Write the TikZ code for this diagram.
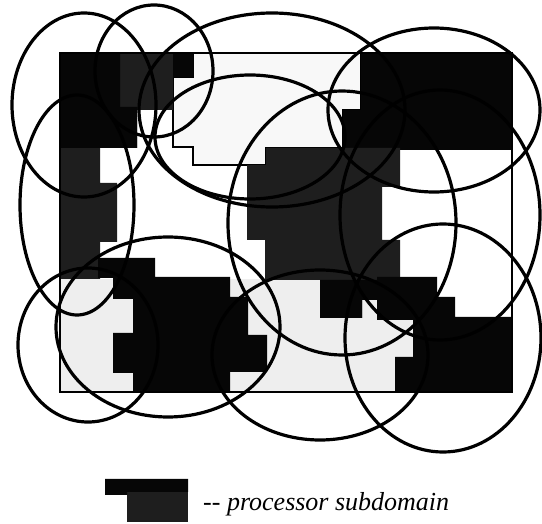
\documentclass[tikz,border=0pt]{standalone}
\usepackage{fontspec}
\setmainfont{Liberation Serif}
\usepackage{tikz}
\definecolor{procblack}{HTML}{060606}
\definecolor{procdark}{HTML}{1E1E1E}
\definecolor{proclight}{HTML}{EEEEEE}
\definecolor{procpale}{HTML}{F8F8F8}
\tikzset{
  blackpart/.style={fill=procblack, draw=none},
  darkpart/.style={fill=procdark, draw=none},
  lightpart/.style={fill=proclight, draw=none},
  palepart/.style={fill=procpale, draw=black, line width=1.2pt},
  frame/.style={draw=black, line width=1.4pt},
  hull/.style={draw=black, line width=3.2pt},
  lbl/.style={font=\fontsize{26}{30}\selectfont\itshape, anchor=base west,
              inner sep=0pt},
}

\begin{document}
\begin{tikzpicture}[x=1pt, y=-1pt]
  \useasboundingbox (0,0) rectangle (542,524);

  % subdomains
  \fill[lightpart] (60,279) rectangle (413,392);
  \filldraw[palepart] (193,53) -- (361,53) -- (361,110) -- (343,110) -- (343,148)
    -- (266,148) -- (266,165) -- (193,165) -- (193,147) -- (173,147)
    -- (173,77) -- (193,77) -- cycle;
  \fill[darkpart] (60,53) -- (193,53) -- (193,77) -- (173,77) -- (173,110)
    -- (137,110) -- (137,148) -- (100,148) -- (100,183) -- (117,183)
    -- (117,242) -- (100,242) -- (100,279) -- (60,279) -- cycle;
  \fill[blackpart] (60,53) -- (120,53) -- (120,107) -- (137,107) -- (137,148)
    -- (60,148) -- cycle;
  \fill[blackpart] (173,53) rectangle (193,77);
  \fill[blackpart] (361,53) -- (512,53) -- (512,150) -- (343,150) -- (343,110)
    -- (361,110) -- cycle;
  \fill[darkpart] (247,165) -- (266,165) -- (266,148) -- (400,148) -- (400,187)
    -- (382,187) -- (382,240) -- (400,240) -- (400,280) -- (377,280)
    -- (377,300) -- (362,300) -- (362,318) -- (320,318) -- (320,280)
    -- (265,280) -- (265,240) -- (247,240) -- cycle;
  \fill[blackpart] (320,280) -- (377,280) -- (377,300) -- (362,300)
    -- (362,318) -- (320,318) -- cycle;
  \fill[blackpart] (377,277) -- (437,277) -- (437,297) -- (455,297) -- (455,317)
    -- (512,317) -- (512,392) -- (395,392) -- (395,357) -- (413,357)
    -- (413,320) -- (377,320) -- cycle;
  \fill[blackpart] (98,258) -- (155,258) -- (155,277) -- (230,277) -- (230,297)
    -- (248,297) -- (248,335) -- (267,335) -- (267,372) -- (230,372)
    -- (230,392) -- (133,392) -- (133,373) -- (113,373) -- (113,333)
    -- (133,333) -- (133,299) -- (113,299) -- (113,278) -- (98,278) -- cycle;
  \draw[frame] (60,53) rectangle (512,392);

  % covering ellipses
  \draw[hull] (84,105) ellipse [x radius=72, y radius=92];
  \draw[hull] (154,71) ellipse [x radius=59, y radius=66];
  \draw[hull] (272,110) ellipse [x radius=133, y radius=97];
  \draw[hull] (250,137) ellipse [x radius=95, y radius=62];
  \draw[hull] (77,205) ellipse [x radius=57, y radius=110];
  \draw[hull] (434,110) ellipse [x radius=106, y radius=82];
  \draw[hull] (342,223) ellipse [x radius=114, y radius=132];
  \draw[hull] (168,327) ellipse [x radius=112, y radius=90];
  \draw[hull] (88,345) ellipse [x radius=70, y radius=77];
  \draw[hull] (320,355) ellipse [x radius=108, y radius=85];
  \draw[hull] (443,338) ellipse [x radius=98, y radius=114];
  \draw[hull] (440,215) ellipse [x radius=100, y radius=125];

  % legend
  \fill[darkpart] (105,479) rectangle (188,522);
  \fill[blackpart] (105,479) -- (188,479) -- (188,492) -- (127,492)
    -- (127,495) -- (105,495) -- cycle;
  \fill[white] (105,495) rectangle (127,522);
  \node[lbl] (legend) at (203,511) {{-}{-} processor subdomain};
\end{tikzpicture}
\end{document}
